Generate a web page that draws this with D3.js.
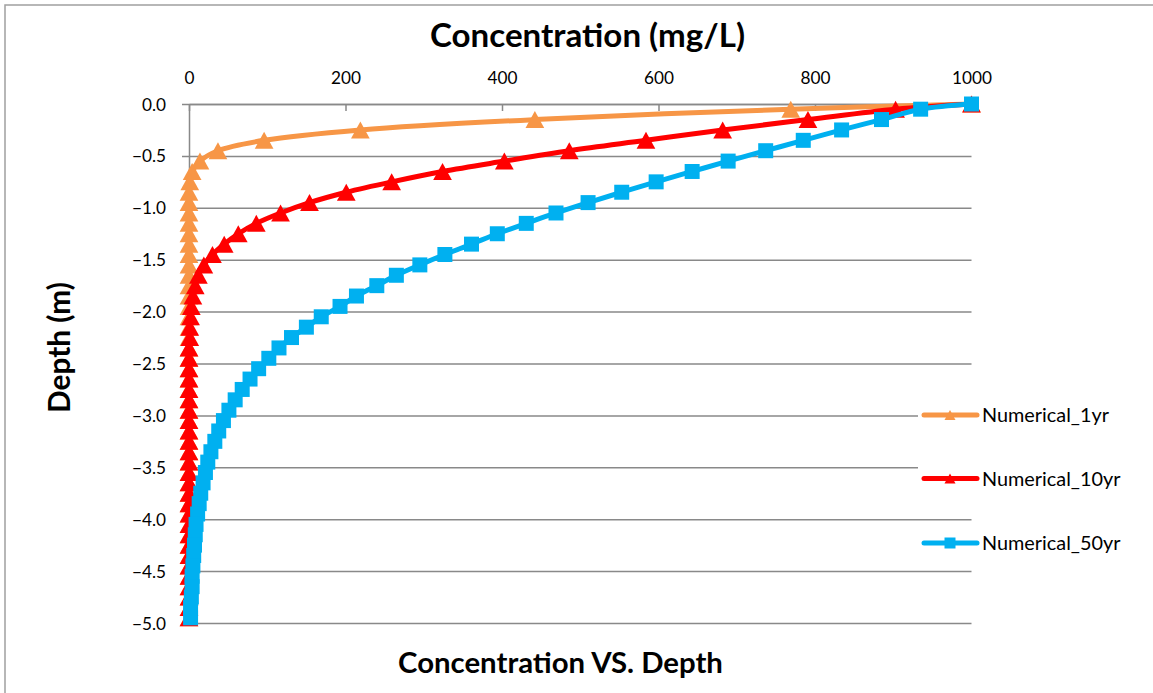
<!DOCTYPE html>
<html>
<head>
<meta charset="utf-8">
<script src="https://cdn.jsdelivr.net/npm/d3@7/dist/d3.min.js"></script>
<style>
  html, body { margin: 0; padding: 0; background: #ffffff; }
  svg { display: block; }
</style>
</head>
<body>
<svg id="chart" width="1153" height="693"></svg>
<script>
// ---------------- data ----------------
const depths = [0, -0.05, -0.15, -0.25, -0.35, -0.45, -0.55, -0.65, -0.75, -0.85, -0.95,
  -1.05, -1.15, -1.25, -1.35, -1.45, -1.55, -1.65, -1.75, -1.85, -1.95,
  -2.05, -2.15, -2.25, -2.35, -2.45, -2.55, -2.65, -2.75, -2.85, -2.95,
  -3.05, -3.15, -3.25, -3.35, -3.45, -3.55, -3.65, -3.75, -3.85, -3.95,
  -4.05, -4.15, -4.25, -4.35, -4.45, -4.55, -4.65, -4.75, -4.85, -4.95];

const conc1yr = [1000, 769, 442, 219, 96, 37, 14, 4, 1, 0, 0,
  0, 0, 0, 0, 0, 0, 0, 0, 0, 0,
  0, 0, 0, 0, 0, 0, 0, 0, 0, 0,
  0, 0, 0, 0, 0, 0, 0, 0, 0, 0,
  0, 0, 0, 0, 0, 0, 0, 0, 0, 0];

const conc10yr = [1000, 903, 791, 682, 584, 486, 403, 324, 259, 201, 154,
  117, 86, 63, 45, 30, 19, 12, 8, 5, 3,
  2, 1, 1, 0, 0, 0, 0, 0, 0, 0,
  0, 0, 0, 0, 0, 0, 0, 0, 0, 0,
  0, 0, 0, 0, 0, 0, 0, 0, 0, 0];

const conc50yr = [1000, 935, 885, 834, 785, 737, 689, 643, 597, 553, 510,
  469, 431, 394, 361, 327, 295, 265, 240, 214, 193,
  169, 150, 131, 115, 102, 89, 78, 68, 59, 51,
  44, 38, 33, 28, 24, 21, 18, 15, 13, 11,
  9, 8, 7, 6, 5, 4, 4, 3, 2, 2];

const seriesNames = ["Numerical_1yr", "Numerical_10yr", "Numerical_50yr"];
const seriesColors = ["#F79646", "#FF0000", "#00B0F0"];
const seriesMarkers = ["triangle", "triangle", "square"];

const xTicks = [0, 200, 400, 600, 800, 1000];
const yTicks = [0, -0.5, -1, -1.5, -2, -2.5, -3, -3.5, -4, -4.5, -5];

const chartTitle = "Concentration (mg/L)";
const xAxisTitle = "Concentration VS. Depth";
const yAxisTitle = "Depth (m)";

// ---------------- layout ----------------
const FONT = "Lato, 'Open Sans', 'Liberation Sans', sans-serif";
const plotLeft = 189, plotRight = 971.5, plotTop = 104, plotBottom = 623;
const gridColor = "#898989";

const svg = d3.select("#chart");
svg.append("rect").attr("x", 0).attr("y", 0).attr("width", 1153).attr("height", 693).attr("fill", "#fff");
svg.append("rect").attr("x", 5).attr("y", 5).attr("width", 1170).attr("height", 720)
  .attr("fill", "none").attr("stroke", "#a0a0a0").attr("stroke-width", 1.5);

const x = d3.scaleLinear().domain([0, 1000]).range([plotLeft, plotRight]);
const y = d3.scaleLinear().domain([0, -5]).range([plotTop, plotBottom]);

function fitFont(sel, targetWidth, base) {
  sel.attr("font-size", base);
  const w = sel.node().getComputedTextLength();
  const size = base * targetWidth / w;
  sel.attr("font-size", size);
  return size;
}

// horizontal gridlines + left axis with outward ticks
const yAxis = d3.axisLeft(y).tickValues(yTicks).tickFormat(d3.format(".1f"))
  .tickSize(-(plotRight - plotLeft)).tickSizeOuter(0).tickPadding(0);
const gy = svg.append("g").attr("transform", `translate(${plotLeft},0)`).call(yAxis);
gy.select(".domain").attr("stroke", gridColor).attr("stroke-width", 1.5);
gy.selectAll(".tick line").attr("stroke", gridColor).attr("stroke-width", 1.5).attr("x1", -7);
gy.selectAll(".tick text").attr("font-family", FONT).attr("fill", "#000").attr("x", -23).attr("dy", "0.35em");

// top axis with inward ticks
const xAxis = d3.axisTop(x).tickValues(xTicks).tickFormat(d3.format("d")).tickSizeOuter(0).tickSizeInner(-7).tickPadding(0);
const gx = svg.append("g").attr("transform", `translate(0,${plotTop})`).call(xAxis);
gx.select(".domain").attr("stroke", gridColor).attr("stroke-width", 1.5);
gx.selectAll(".tick line").attr("stroke", gridColor).attr("stroke-width", 1.5);
gx.selectAll(".tick text").attr("font-family", FONT).attr("fill", "#000").attr("y", -20).attr("dy", 0);

const tickSize = fitFont(gx.selectAll(".tick text").filter(d => d === 1000), 40, 20);
gx.selectAll(".tick text").attr("font-size", tickSize);
gy.selectAll(".tick text").attr("font-size", tickSize);
svg.selectAll("g").attr("font-family", FONT);

// ---------------- series ----------------
function markerPath(type, s) {
  if (type === "square") {
    return `M${-s/2},${-s/2}H${s/2}V${s/2}H${-s/2}Z`;
  }
  const w = s * 1.1, h = s;
  return `M0,${-h/2}L${w/2},${h/2}L${-w/2},${h/2}Z`;
}

const allSeries = [conc1yr, conc10yr, conc50yr];
const line = d3.line().x(d => x(d[0])).y(d => y(d[1])).curve(d3.curveCatmullRom.alpha(0.5));

allSeries.forEach((vals, i) => {
  const pts = vals.map((v, k) => [v, depths[k]]);
  const g = svg.append("g");
  g.append("path").attr("d", line(pts)).attr("fill", "none")
    .attr("stroke", seriesColors[i]).attr("stroke-width", 5)
    .attr("stroke-linejoin", "round").attr("stroke-linecap", "round");
  const ms = seriesMarkers[i] === "square" ? 15 : 17;
  g.selectAll("path.m").data(pts).enter().append("path").attr("class", "m")
    .attr("transform", d => `translate(${x(d[0])},${y(d[1])})`)
    .attr("d", markerPath(seriesMarkers[i], ms))
    .attr("fill", seriesColors[i]);
});

// ---------------- legend ----------------
const legendY = [415, 478.5, 543];
seriesNames.forEach((name, i) => {
  const g = svg.append("g").attr("transform", `translate(0,${legendY[i]})`);
  g.append("rect").attr("x", 918).attr("y", -12).attr("width", 230).attr("height", 24).attr("fill", "#fff");
  g.append("line").attr("x1", 924).attr("x2", 977).attr("y1", 0).attr("y2", 0)
    .attr("stroke", seriesColors[i]).attr("stroke-width", 5).attr("stroke-linecap", "round");
  g.append("path").attr("transform", "translate(950,0)")
    .attr("d", markerPath(seriesMarkers[i], seriesMarkers[i] === "square" ? 11 : 10))
    .attr("fill", seriesColors[i]);
  const t = g.append("text").attr("x", 982).attr("y", 7).attr("font-family", FONT).attr("fill", "#000").text(name);
  if (i === 0) t.attr("class", "leg0");
});
const legSize = fitFont(svg.select("text.leg0"), 127, 20);
svg.selectAll("g text").filter(function() { return seriesNames.includes(this.textContent); }).attr("font-size", legSize);

// ---------------- titles ----------------
const t1 = svg.append("text").attr("x", 587.5).attr("y", 47).attr("text-anchor", "middle")
  .attr("font-family", FONT).attr("font-weight", "bold").attr("fill", "#000").text(chartTitle);
fitFont(t1, 315, 24);
const t2 = svg.append("text").attr("x", 560.5).attr("y", 673).attr("text-anchor", "middle")
  .attr("font-family", FONT).attr("font-weight", "bold").attr("fill", "#000").text(xAxisTitle);
fitFont(t2, 325, 24);
const t3 = svg.append("text").attr("transform", "translate(70,347.5) rotate(-90)").attr("text-anchor", "middle")
  .attr("font-family", FONT).attr("font-weight", "bold").attr("fill", "#000").text(yAxisTitle);
fitFont(t3, 131, 24);
</script>
</body>
</html>
